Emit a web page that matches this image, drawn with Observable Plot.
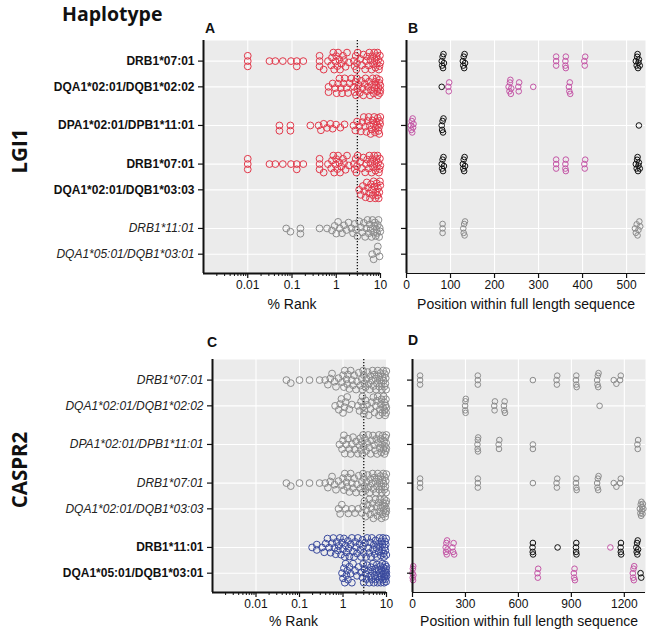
<!DOCTYPE html>
<html>
<head>
<meta charset="utf-8">
<script src="https://cdn.jsdelivr.net/npm/d3@7"></script>
<script src="https://cdn.jsdelivr.net/npm/@observablehq/plot@0.6"></script>
<style>
  body { margin: 0; background: #fff; }
  #chart { position: relative; width: 648px; height: 637px; overflow: hidden; font-family: "Liberation Sans", Arial, sans-serif; color: #111; }
  .t { position: absolute; white-space: nowrap; }
  .big { font-family: "Open Sans", sans-serif; font-weight: 700; }
  .letter { font-weight: 700; font-size: 14px; line-height: 14px; }
  .rot { transform: translate(-50%, -50%) rotate(-90deg); line-height: 1; }
</style>
</head>
<body>
<div id="chart"></div>
<script>
// ---------------- DATA ----------------
const haplotypes = ["DRB1*07:01", "DQA1*02:01/DQB1*02:02", "DPA1*02:01/DPB1*11:01", "DRB1*07:01",
                    "DQA1*02:01/DQB1*03:03", "DRB1*11:01", "DQA1*05:01/DQB1*03:01"];
const groups = ["LGI1 risk", "CASPR2 risk", "non-risk", "epitope A", "epitope B"];

// Panel A: LGI1 peptides, % rank
const lgi1Rank_DRB1_0701 = [0.01,0.01,0.01,0.031,0.042,0.062,0.095,0.128,0.128,0.18,0.42,0.42,0.42,0.52,0.65,0.77,0.8,0.86,0.9,0.96,1.0,1.06,1.1,1.17,1.22,1.3,1.42,1.5,1.62,1.75,1.92,2.5,2.6,2.75,2.85,2.95,3.05,3.5,3.8,4.1,4.5,4.7,5.0,5.4,5.6,5.9,6.3,6.5,6.8,7.2,7.4,7.7,8.1,8.3,8.6,8.9,9.2,9.5,9.7,9.9];
const lgi1Rank_DQ0202 = [0.67,0.67,0.83,0.95,1.02,1.1,1.18,1.27,1.35,1.46,1.55,1.72,1.85,2.0,2.2,2.5,2.6,2.72,2.8,2.92,3.0,3.2,3.4,3.65,3.9,4.1,4.4,4.6,4.9,5.2,5.5,5.8,6.1,6.4,6.7,7.0,7.3,7.6,7.9,8.2,8.5,8.8,9.1,9.3,9.5,9.7,9.9,9.9];
const lgi1Rank_DP1101 = [0.052,0.052,0.092,0.092,0.26,0.4,0.45,0.52,0.62,0.74,0.83,0.99,1.24,1.54,2.45,2.7,2.95,3.3,3.6,3.9,4.2,4.5,4.8,5.1,5.4,5.7,6.0,6.3,6.6,6.9,7.2,7.5,7.8,8.1,8.4,8.7,9.0,9.2,9.4,9.6,9.8,9.9];
const lgi1Rank_DQ0303 = [3.3,3.6,4.0,4.3,4.6,4.9,5.2,5.5,5.8,6.1,6.4,6.7,7.0,7.3,7.6,7.9,8.2,8.5,8.8,9.1,9.4,9.7,9.9];
const lgi1Rank_DRB1_1101 = [0.074,0.092,0.155,0.155,0.42,0.62,0.8,0.92,1.0,1.1,1.2,1.35,1.5,1.7,1.9,2.2,2.4,2.6,2.8,3.0,3.3,3.6,3.9,4.2,4.5,4.8,5.1,5.4,5.7,6.0,6.3,6.6,6.9,7.2,7.5,7.8,8.1,8.4,8.7,9.0,9.3,9.6,9.9];
const lgi1Rank_DQ0301 = [6.5,7.0,8.3,8.7,9.5];

// Panel C: CASPR2 peptides, % rank
const caspr2Rank_DRB1_0701 = [0.05,0.063,0.1,0.17,0.29,0.39,0.45,0.51,0.56,0.64,0.69,0.79,0.95,1.0,1.05,1.1,1.2,1.25,1.3,1.4,1.5,1.6,1.7,1.8,2.0,2.1,2.3,2.5,2.7,2.8,2.9,3.0,3.1,3.3,3.5,3.7,3.9,4.1,4.3,4.6,4.8,5.0,5.3,5.5,5.8,6.0,6.3,6.5,6.8,7.0,7.3,7.6,7.8,8.1,8.4,8.6,8.9,9.2,9.4,9.6,9.8,9.9];
const caspr2Rank_DQ0202 = [0.66,0.8,0.86,0.92,1.0,1.08,1.15,1.25,1.4,1.6,2.2,2.4,2.6,2.8,2.9,3.0,3.1,3.3,3.6,3.9,4.3,4.6,5.0,5.3,5.7,6.0,6.3,6.7,7.0,7.4,7.7,8.0,8.3,8.6,8.9,9.1,9.3,9.5,9.7,9.8,9.9];
const caspr2Rank_DP1101 = [0.83,0.95,1.0,1.05,1.1,1.2,1.3,1.4,1.5,1.6,1.7,1.85,2.0,2.2,2.4,2.5,2.6,2.7,2.8,2.9,3.0,3.2,3.4,3.6,3.8,4.0,4.3,4.6,4.9,5.2,5.5,5.8,6.1,6.4,6.7,7.0,7.3,7.6,7.9,8.2,8.5,8.8,9.0,9.2,9.4,9.6,9.8,9.9,9.9];
const caspr2Rank_DQ0303 = [0.79,0.86,0.94,1.16,1.33,1.6,1.89,2.26,2.7,2.9,3.1,3.3,3.5,3.7,4.0,4.2,4.5,4.8,5.0,5.3,5.6,5.9,6.2,6.5,6.8,7.1,7.4,7.7,8.0,8.3,8.6,8.9,9.1,9.3,9.5,9.7,9.8,9.9,9.9];
const caspr2Rank_DRB1_1101 = [0.195,0.25,0.25,0.33,0.37,0.4,0.44,0.48,0.52,0.56,0.6,0.64,0.68,0.72,0.76,0.8,0.85,0.9,0.95,1.0,1.05,1.1,1.15,1.2,1.3,1.35,1.4,1.5,1.6,1.7,1.8,1.9,2.0,2.1,2.2,2.4,2.5,2.6,2.8,2.9,3.0,3.2,3.4,3.6,3.8,4.0,4.2,4.4,4.6,4.9,5.1,5.4,5.6,5.9,6.1,6.4,6.6,6.9,7.1,7.4,7.6,7.9,8.1,8.3,8.6,8.8,9.0,9.2,9.4,9.6,9.8,9.9];
const caspr2Rank_DQ0301 = [0.95,1.0,1.05,1.1,1.15,1.2,1.25,1.3,1.4,1.5,1.6,1.7,1.9,2.1,2.3,2.6,2.8,2.9,3.0,3.1,3.3,3.5,3.6,3.8,4.0,4.2,4.4,4.5,4.7,4.9,5.1,5.3,5.5,5.6,5.8,6.0,6.2,6.4,6.6,6.8,7.0,7.2,7.4,7.6,7.8,8.0,8.2,8.4,8.6,8.8,9.0,9.1,9.3,9.4,9.6,9.7,9.8,9.9,9.9,10];

// Panel B: positions within LGI1 sequence
const lgi1Pos_DRB1_0701_A = [80,81,82,83,84,85,128,129,130,131,132,133,521,523,524,525,526,527,528,530];
const lgi1Pos_DRB1_0701_B = [340,340,340,361,361,362,362,404,405,406];
const lgi1Pos_DQ0202_A = [80];
const lgi1Pos_DQ0202_B = [95,96,97,232,234,235,236,237,238,254,255,256,288,369,370,371,372];
const lgi1Pos_DP1101_A = [80,81,82,83,84,528];
const lgi1Pos_DP1101_B = [10,11,12,13,14,15,16];
const lgi1Pos_DRB1_1101 = [82,82,82,129,130,131,132,133,519,521,523,525,527,529,531];

// Panel D: positions within CASPR2 sequence
const caspr2Pos_DRB1_0701 = [43,43,43,370,370,370,682,816,818,820,926,928,928,930,1046,1048,1050,1052,1054,1140,1155,1176,1180];
const caspr2Pos_DQ0202 = [298,299,300,301,302,463,465,467,518,520,522,524,1060];
const caspr2Pos_DP1101 = [368,369,370,371,372,488,490,492,682,682,1274,1276,1278];
const caspr2Pos_DQ0303 = [1288,1291,1293,1295,1297,1299,1301,1303,1305,1308];
const caspr2Pos_DRB1_1101_A = [680,681,682,683,822,926,927,928,929,1179,1180,1181,1182,1268,1270,1272,1274,1276,1278];
const caspr2Pos_DRB1_1101_B = [188,190,192,194,196,198,226,230,233,236,1121];
const caspr2Pos_DQ0301_A = [1292,1296];
const caspr2Pos_DQ0301_B = [0,1,2,3,4,5,708,710,712,914,916,918,920,1248,1250,1252,1254,1256];

const rankTicks = [0.01, 0.1, 1, 10];
const lgi1PosTicks = [0, 100, 200, 300, 400, 500];
const caspr2PosTicks = [0, 300, 600, 900, 1200];

// ---------------- LAYOUT / STYLE ----------------
const groupColors = ["#e2384a", "#3a4a9e", "#8c8c8c", "#111111", "#c455a6"];
const rowSlot = [0, 2, 5, 8, 10, 13, 15];
const yDomain = [-1.6, 16.5];

const series = (row, group, values) => values.map(v => ({row, group, v}));

const pointsA = [
  series(0, "LGI1 risk", lgi1Rank_DRB1_0701), series(1, "LGI1 risk", lgi1Rank_DQ0202),
  series(2, "LGI1 risk", lgi1Rank_DP1101), series(3, "LGI1 risk", lgi1Rank_DRB1_0701),
  series(4, "LGI1 risk", lgi1Rank_DQ0303), series(5, "non-risk", lgi1Rank_DRB1_1101),
  series(6, "non-risk", lgi1Rank_DQ0301)].flat();
const pointsB = [
  series(0, "epitope A", lgi1Pos_DRB1_0701_A), series(0, "epitope B", lgi1Pos_DRB1_0701_B),
  series(1, "epitope A", lgi1Pos_DQ0202_A), series(1, "epitope B", lgi1Pos_DQ0202_B),
  series(2, "epitope A", lgi1Pos_DP1101_A), series(2, "epitope B", lgi1Pos_DP1101_B),
  series(3, "epitope A", lgi1Pos_DRB1_0701_A), series(3, "epitope B", lgi1Pos_DRB1_0701_B),
  series(5, "non-risk", lgi1Pos_DRB1_1101)].flat();
const pointsC = [
  series(0, "non-risk", caspr2Rank_DRB1_0701), series(1, "non-risk", caspr2Rank_DQ0202),
  series(2, "non-risk", caspr2Rank_DP1101), series(3, "non-risk", caspr2Rank_DRB1_0701),
  series(4, "non-risk", caspr2Rank_DQ0303), series(5, "CASPR2 risk", caspr2Rank_DRB1_1101),
  series(6, "CASPR2 risk", caspr2Rank_DQ0301)].flat();
const pointsD = [
  series(0, "non-risk", caspr2Pos_DRB1_0701), series(1, "non-risk", caspr2Pos_DQ0202),
  series(2, "non-risk", caspr2Pos_DP1101), series(3, "non-risk", caspr2Pos_DRB1_0701),
  series(4, "non-risk", caspr2Pos_DQ0303),
  series(5, "epitope A", caspr2Pos_DRB1_1101_A), series(5, "epitope B", caspr2Pos_DRB1_1101_B),
  series(6, "epitope A", caspr2Pos_DQ0301_A), series(6, "epitope B", caspr2Pos_DQ0301_B)].flat();

// beeswarm offsets (pixel space), converted to y units
function swarm(points, xPix, pxPerUnit, minDist, cap) {
  const out = [];
  for (const [, pts] of d3.group(points, d => d.row)) {
    const sorted = pts.map(d => ({...d, px: xPix(d.v)})).sort((a, b) => a.px - b.px);
    const placed = [];
    for (const p of sorted) {
      const near = placed.filter(q => Math.abs(q.px - p.px) < minDist);
      const cands = [0];
      for (const q of near) {
        const h = Math.sqrt(minDist * minDist - (q.px - p.px) ** 2);
        cands.push(q.off + h, q.off - h);
      }
      for (let k = 0.5; k <= cap; k += 0.5) cands.push(k, -k);
      let best = 0, bestScore = Infinity;
      for (const c of cands) {
        if (Math.abs(c) > cap + 1e-9) continue;
        let md = Infinity;
        for (const q of near) md = Math.min(md, Math.hypot(q.px - p.px, q.off - c));
        const score = md >= minDist - 1e-6 ? Math.abs(c) : 1000 - md * 10 + Math.abs(c) * 0.1;
        if (score < bestScore - 1e-9) { bestScore = score; best = c; }
      }
      p.off = best;
      placed.push(p);
      out.push({...p, y: rowSlot[p.row] + best / pxPerUnit});
    }
  }
  return out;
}

function panel(o) {
  const innerW = o.width - o.mL - o.mR, innerH = o.height - o.mT - o.mB;
  const xPix = (o.log ? d3.scaleLog() : d3.scaleLinear()).domain(o.xDomain).range([0, innerW]);
  const pts = swarm(o.points, xPix, innerH / (yDomain[1] - yDomain[0]), o.minDist, o.cap);
  const rows = haplotypes.map((label, i) => ({label, i}));
  const marks = [
    Plot.frame({fill: "#ebebeb", stroke: "none"}),
    Plot.ruleX(o.grid, {stroke: "#fff", strokeWidth: 1.1}),
    Plot.ruleY(rowSlot, {stroke: "#fff", strokeWidth: 1.1})
  ];
  if (o.threshold) marks.push(Plot.ruleX([o.threshold], {stroke: "#111", strokeWidth: 1.3, strokeDasharray: "1.2,1.8"}));
  marks.push(
    Plot.dot(pts, {x: "v", y: "y", r: o.r, stroke: "group", fill: "none", strokeWidth: 1}),
    Plot.ruleX([o.xDomain[0]], {stroke: "#111", strokeWidth: 2}),
    Plot.ruleY([yDomain[1]], {stroke: "#111", strokeWidth: o.bottomW}),
    Plot.axisY({ticks: rowSlot, tickSize: 5, tickFormat: () => "", strokeWidth: 1.2}),
    Plot.axisX({ticks: o.ticks, tickSize: 5, tickPadding: 2, tickFormat: d => String(d), fontSize: 12, strokeWidth: 1.2})
  );
  if (o.minor) marks.push(Plot.axisX({ticks: o.minor, tickSize: 3, tickFormat: () => "", strokeWidth: 1}));
  if (o.labels) {
    marks.push(
      Plot.text(rows.filter(d => o.boldRows.includes(d.i)), {y: d => rowSlot[d.i], text: "label", frameAnchor: "left", textAnchor: "end", dx: -9, fontSize: 12, fontWeight: "bold", fill: "#111"}),
      Plot.text(rows.filter(d => !o.boldRows.includes(d.i)), {y: d => rowSlot[d.i], text: "label", frameAnchor: "left", textAnchor: "end", dx: -9, fontSize: 12, fontStyle: "italic", fill: "#222"})
    );
  }
  marks.push(Plot.text([o.xLabel], {text: d => d, frameAnchor: "bottom", dy: o.labelDy, dx: o.labelDx || 0, fontSize: 14, fill: "#111"}));
  return Plot.plot({
    width: o.width, height: o.height,
    marginLeft: o.mL, marginRight: o.mR, marginTop: o.mT, marginBottom: o.mB,
    x: {type: o.log ? "log" : "linear", domain: o.xDomain, label: null},
    y: {domain: yDomain, reverse: true, label: null},
    color: {domain: groups, range: groupColors},
    style: {fontFamily: "'Liberation Sans', Arial, sans-serif", fontSize: "12px", color: "#111", background: "transparent", overflow: "visible"},
    marks
  });
}

const minorLog = [0.001, 0.01, 0.1, 1].flatMap(d => [2, 3, 4, 5, 6, 7, 8, 9].map(k => +(k * d).toPrecision(3)));

const root = document.getElementById("chart");
function put(el, left, top) {
  el.style.position = "absolute"; el.style.left = left + "px"; el.style.top = top + "px";
  root.appendChild(el);
}
function label(text, cls, left, top, css) {
  const d = document.createElement("div");
  d.className = "t " + cls;
  d.textContent = text;
  Object.assign(d.style, css || {});
  put(d, left, top);
}

put(panel({points: pointsA, log: true, xDomain: [0.001, 10], grid: rankTicks, ticks: rankTicks, minor: minorLog,
  threshold: 3, width: 390, height: 300, mL: 203, mR: 10, mT: 20, mB: 47, r: 3.4, minDist: 5.3, cap: 8.5,
  bottomW: 2, labels: true, boldRows: [0, 1, 2, 3, 4], xLabel: "% Rank", labelDy: 35}), 0, 20);
put(panel({points: pointsB, log: false, xDomain: [0, 543], grid: lgi1PosTicks.slice(1), ticks: lgi1PosTicks,
  width: 258, height: 300, mL: 16, mR: 3, mT: 20, mB: 47, r: 2.8, minDist: 4.5, cap: 7,
  bottomW: 1.2, labels: false, xLabel: "Position within full length sequence", labelDy: 35}), 390, 20);
put(panel({points: pointsC, log: true, xDomain: [0.001, 10], grid: rankTicks, ticks: rankTicks, minor: minorLog,
  threshold: 3, width: 395, height: 298, mL: 212, mR: 9, mT: 20, mB: 45, r: 3.4, minDist: 5.3, cap: 9.5,
  bottomW: 2, labels: true, boldRows: [5, 6], xLabel: "% Rank", labelDy: 33, labelDx: -6}), 0, 339);
put(panel({points: pointsD, log: false, xDomain: [0, 1320], grid: caspr2PosTicks.slice(1), ticks: caspr2PosTicks,
  width: 258, height: 298, mL: 22, mR: 3, mT: 20, mB: 45, r: 2.8, minDist: 4.5, cap: 7,
  bottomW: 1.2, labels: false, xLabel: "Position within full length sequence", labelDy: 33}), 390, 339);

label("Haplotype", "big", 62, 2.5, {fontSize: "19.5px", lineHeight: "22px"});
label("LGI1", "big rot", 19, 151, {fontSize: "20.5px"});
label("CASPR2", "big rot", 19, 470, {fontSize: "20.5px"});
label("A", "letter", 205, 21);
label("B", "letter", 408, 21);
label("C", "letter", 207, 335);
label("D", "letter", 408, 333);
</script>
</body>
</html>
